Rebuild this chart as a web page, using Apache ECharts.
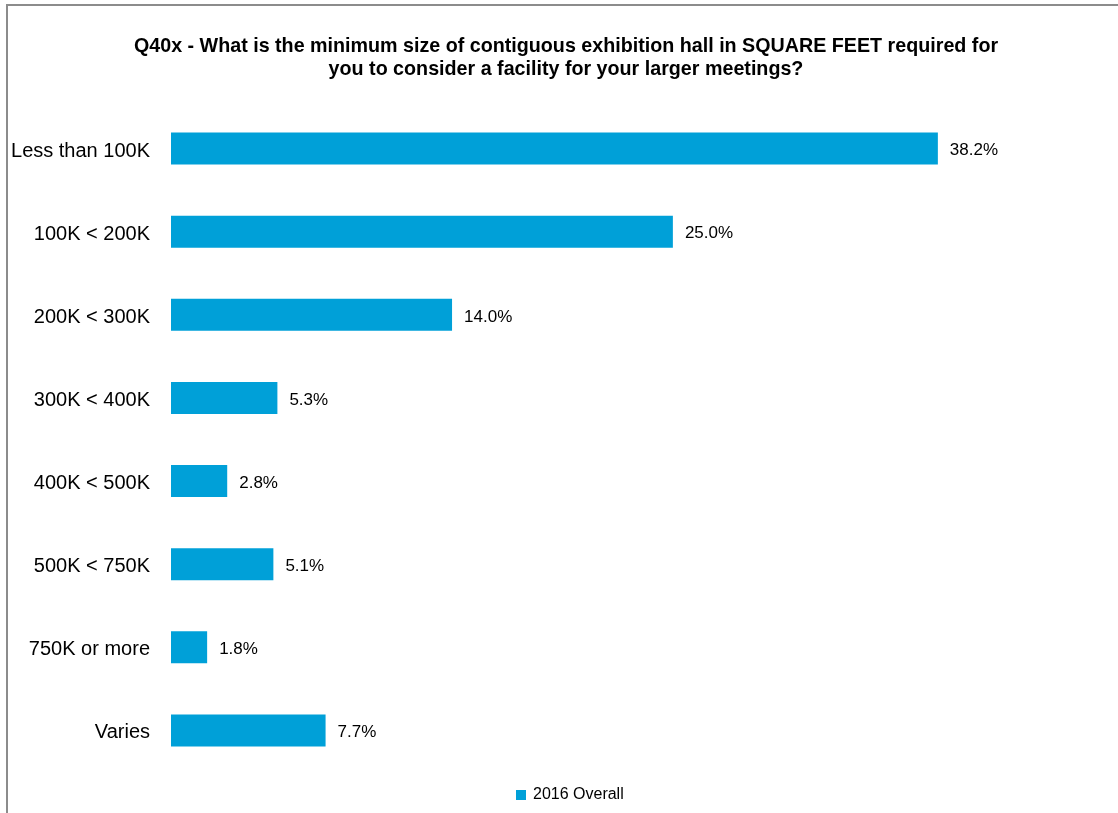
<!DOCTYPE html>
<html>
<head>
<meta charset="utf-8">
<script src="https://cdn.jsdelivr.net/npm/echarts@6/dist/echarts.min.js"></script>
<style>
  html, body { margin: 0; padding: 0; background: #fff; }
  #main { width: 1118px; height: 813px; }
</style>
</head>
<body>
<div id="main"></div>
<script>
// categories, top to bottom
var categories = ['Less than 100K', '100K < 200K', '200K < 300K', '300K < 400K',
                  '400K < 500K', '500K < 750K', '750K or more', 'Varies'];
// 2016 Overall, percent
var overall2016 = [38.2, 25.0, 14.0, 5.3, 2.8, 5.1, 1.8, 7.7];
var seriesName = '2016 Overall';
var titleText = 'Q40x - What is the minimum size of contiguous exhibition hall in SQUARE FEET required for\nyou to consider a facility for your larger meetings?';

var myChart = echarts.init(document.getElementById('main'));

var option = {
  backgroundColor: '#fff',
  animation: false,
  textStyle: { fontFamily: 'Liberation Sans' },
  title: {
    text: titleText,
    left: 561,
    textAlign: 'center',
    top: 30,
    textStyle: {
      fontFamily: 'Liberation Sans',
      fontWeight: 'bold',
      fontSize: 19.7,
      lineHeight: 23,
      color: '#000'
    }
  },
  // outer frame (left + top edges only visible)
  graphic: [{
    type: 'polyline',
    shape: { points: [[7, 813], [7, 5], [1118, 5]] },
    style: { stroke: '#8c8c8c', lineWidth: 2, fill: null },
    silent: true
  }],
  legend: {
    data: [seriesName],
    bottom: 5,
    left: 511,
    itemWidth: 10,
    itemHeight: 10,
    itemGap: 6,
    icon: 'rect',
    textStyle: { fontSize: 16, color: '#000', padding: [0, 0, 0, 2] }
  },
  grid: {
    left: 171,
    right: 144,
    top: 107,
    bottom: 41,
    containLabel: false
  },
  xAxis: {
    type: 'value',
    min: 0,
    max: 40,
    show: false
  },
  yAxis: {
    type: 'category',
    data: categories,
    inverse: true,
    axisLine: { show: false },
    axisTick: { show: false },
    axisLabel: {
      fontSize: 20,
      color: '#000',
      margin: 21,
      verticalAlign: 'top',
      lineHeight: 5
    }
  },
  series: [{
    name: seriesName,
    type: 'bar',
    data: overall2016,
    barWidth: 32,
    itemStyle: { color: '#00A0D8' },
    label: {
      show: true,
      position: 'right',
      distance: 12,
      fontSize: 17,
      color: '#000',
      offset: [0, 2],
      formatter: function (p) { return p.value.toFixed(1) + '%'; }
    }
  }]
};

myChart.setOption(option);
</script>
</body>
</html>
